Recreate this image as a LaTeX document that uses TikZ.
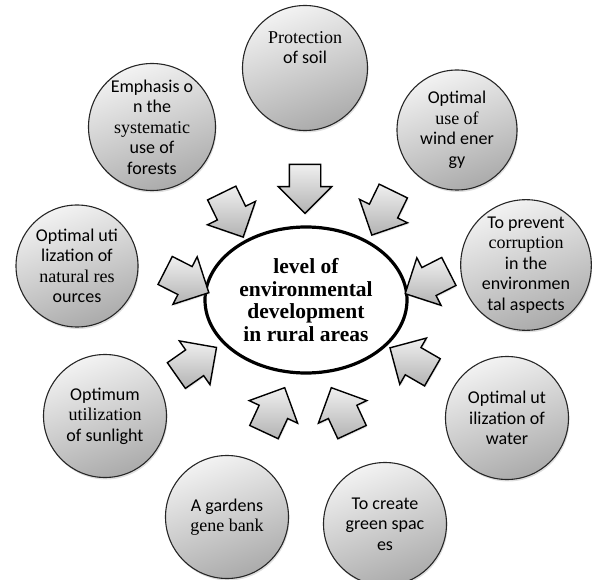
\documentclass[tikz,border=0pt]{standalone}
\usepackage{fontspec}
\setmainfont{Carlito}
\newfontfamily\timesfont{Liberation Serif}
\usetikzlibrary{shapes.geometric,shapes.arrows,shadows}

\begin{document}
\begin{tikzpicture}
[x=1pt,y=1pt,
  circleDecorate/.style={shape=circle,draw=black!85,line width=1.1pt,
    top color=black!5,bottom color=black!33,shading angle=20,
    drop shadow={opacity=0.25,shadow xshift=1pt,shadow yshift=-2pt},
    inner sep=0pt,align=center,font=\fontsize{18}{20.5}\selectfont},
  arrowDecorate/.style={single arrow,draw=black,line width=1.4pt,
    top color=black!6,bottom color=black!30,
    drop shadow={opacity=0.2,shadow xshift=1pt,shadow yshift=-1.5pt},
    minimum height=49pt,single arrow head extend=11pt,inner sep=0pt},
  centerDecorate/.style={shape=ellipse,draw=black,line width=3.2pt,fill=white,
    minimum width=202pt,minimum height=146pt,inner sep=0pt,align=center,
    font=\timesfont\bfseries\fontsize{21.5}{22.5}\selectfont}]
\useasboundingbox (0,0) rectangle (592,-580);
%% center
\node (level) at (306,-300) [centerDecorate]
  {level of\\environmental\\development\\in rural areas};
%% circles around
\foreach \nodename/\x/\y/\sz/\txt in {
  soil/305/-68/125/{{\timesfont Protection}\\of soil\\~\\~},
  forest/152/-127/127/{Emphasis o\\n the\\{\timesfont systematic}\\use of\\forests},
  wind/457/-130/120/{Optimal\\{\timesfont use of}\\wind ener\\gy},
  corrupt/526/-265/128/{To prevent\\{\timesfont corruption}\\in the\\environmen\\tal aspects},
  resource/77/-266/122/{Optimal uti\\lization of\\{\timesfont natural res}\\ources},
  sun/105/-416/123/{Optimum\\{\timesfont utilization}\\of sunlight},
  gene/227/-517/123/{A gardens\\{\timesfont gene bank}},
  green/385/-524/123/{To create\\green spac\\es},
  water/507/-418/123/{Optimal ut\\ilization of\\water}}
{
  \node (\nodename) at (\x,\y) [circleDecorate,minimum size=\sz pt] {\txt};
}
%% block arrows to the center
\foreach \arrname/\x/\y/\ang in {
  soilArr/305/-181/-90,
  forestArr/229/-208/-64,
  windArr/386/-206/-116,
  corruptArr/434/-279/-153,
  resourceArr/180/-278/-27,
  sunArr/190/-366/35,
  waterArr/418/-364/150,
  geneArr/271/-417/65,
  greenArr/345/-417/115}
{
  \node (\arrname) at (\x,\y) [arrowDecorate,rotate=\ang] {\rule{0pt}{30pt}};
}
\end{tikzpicture}
\end{document}
